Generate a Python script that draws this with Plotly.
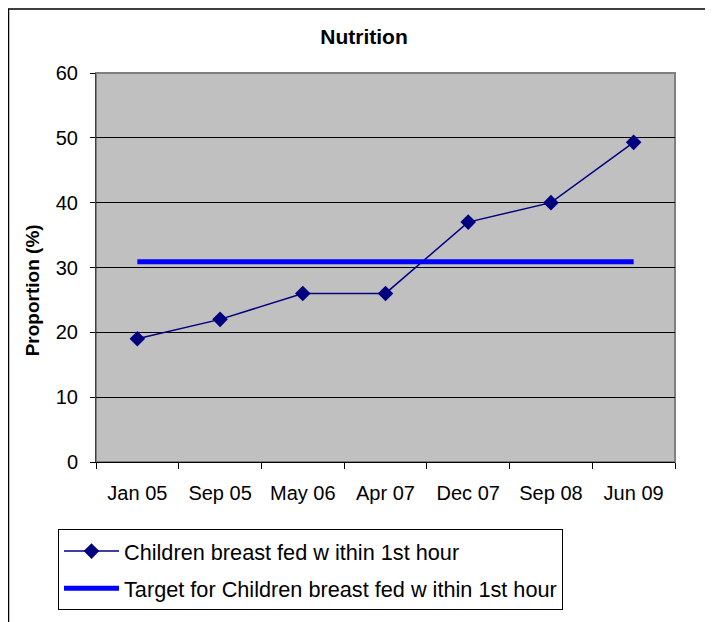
import plotly.graph_objects as go

categories = ["Jan 05", "Sep 05", "May 06", "Apr 07", "Dec 07", "Sep 08", "Jun 09"]
breastfed = [19, 22, 26, 26, 37, 40, 49.3]
target = [30.9, 30.9, 30.9, 30.9, 30.9, 30.9, 30.9]
y_ticks = [0, 10, 20, 30, 40, 50, 60]

FONT = "Liberation Sans, Arial, sans-serif"

# page has an 8px body margin: the figure starts at (8, 8) on the page
W, H = 705, 614
L, T = 88, 65
PW, PH = 579, 392

fig = go.Figure()
fig.add_trace(go.Scatter(
    x=categories, y=breastfed, mode="lines+markers",
    name="Children breast fed w ithin 1st hour",
    line=dict(color="#000080", width=1.5),
    marker=dict(symbol="diamond", size=12, color="#000080"),
    legendgroup="a",
))
fig.add_trace(go.Scatter(
    x=categories, y=target, mode="lines",
    name="Target for Children breast fed w ithin 1st hour",
    line=dict(color="#0000FF", width=5),
    legendgroup="b",
))

fig.update_layout(
    width=W, height=H,
    margin=dict(l=L, r=W - L - PW, t=T, b=H - T - PH),
    paper_bgcolor="white",
    plot_bgcolor="#C0C0C0",
    font=dict(family=FONT, size=20, color="black"),
    title=dict(text="<b>Nutrition</b>", x=(364 - 96) / PW, xref="paper", xanchor="center",
               y=1 - 29 / H, yanchor="middle", font=dict(size=21)),
    showlegend=True,
    legend=dict(
        x=(58 - 96) / PW, y=(465 - 533) / PH, xanchor="left", yanchor="top",
        bordercolor="black", borderwidth=1, bgcolor="white",
        font=dict(size=21.7), traceorder="grouped", tracegroupgap=6,
        itemwidth=55,
    ),
    shapes=[dict(type="rect", xref="paper", yref="paper",
                 x0=(8.5 - 96) / PW, x1=(760 - 96) / PW,
                 y0=(465 - 700) / PH, y1=(465 - 8.5) / PH,
                 line=dict(color="black", width=1.5), fillcolor="rgba(0,0,0,0)",
                 layer="below")],
    annotations=[dict(text="<b>Proportion (%)</b>", xref="paper", yref="paper",
                      x=(32 - 96) / PW, y=(465 - 292) / PH, xanchor="center",
                      yanchor="middle", textangle=-90, showarrow=False,
                      font=dict(size=19))],
)

fig.update_xaxes(
    type="category", categoryorder="array", categoryarray=categories,
    range=[-0.5, 6.5],
    showgrid=False, zeroline=False,
    showline=True, linecolor="black", linewidth=1, mirror=False,
    ticks="outside", tickson="boundaries", ticklen=6, tickcolor="black",
    tickfont=dict(size=20), ticklabelstandoff=13,
)
fig.update_yaxes(
    range=[0, 60], tickvals=y_ticks,
    showgrid=True, gridcolor="black", gridwidth=1, zeroline=False,
    showline=True, linecolor="#404040", linewidth=1,
    ticks="outside", ticklen=5, tickcolor="black",
    tickfont=dict(size=20), ticklabelstandoff=8,
)
# gray plot-area border (top/right)
fig.add_shape(type="rect", xref="paper", yref="paper", x0=0, x1=1, y0=0, y1=1,
              line=dict(color="#808080", width=2), fillcolor="rgba(0,0,0,0)", layer="below")

fig.write_html("out.html")
